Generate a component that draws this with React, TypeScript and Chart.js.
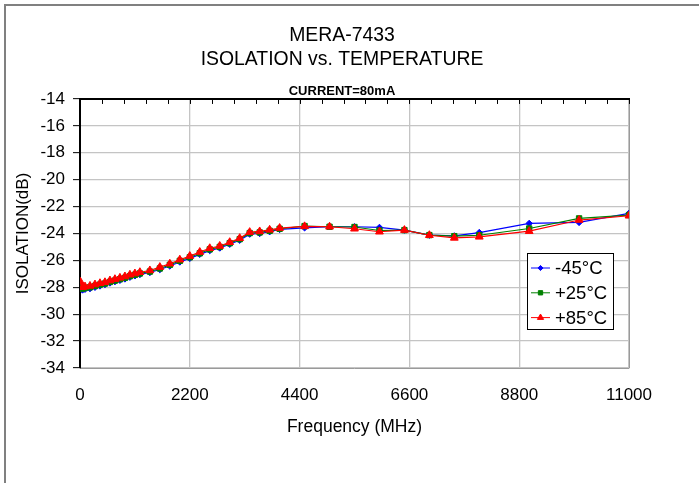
import React, { useEffect, useRef } from "react";
import { Chart, registerables } from "chart.js";
import { drawPoint } from "chart.js/helpers";

Chart.register(...registerables);

const FONT = "'Liberation Sans', Arial, Helvetica, sans-serif";

const titleLines = ["MERA-7433", "ISOLATION vs. TEMPERATURE"];
const subtitleText = "CURRENT=80mA";
const xAxisTitle = "Frequency (MHz)";
const yAxisTitle = "ISOLATION(dB)";

const xMin = 0;
const xMax = 11000;
const xMajorStep = 2200;
const xMinorStep = 440;
const yMin = -34;
const yMax = -14;
const yStep = 2;

const freqMHz = [
  10, 50, 100, 200, 300, 400, 500, 600, 700, 800, 900, 1000, 1100, 1200, 1400,
  1600, 1800, 2000, 2200, 2400, 2600, 2800, 3000, 3200, 3400, 3600, 3800, 4000,
  4500, 5000, 5500, 6000, 6500, 7000, 7500, 8000, 9000, 10000, 11000,
];

const isoM45 = [
  -27.85, -28.2, -28.15, -28.1, -28.0, -27.9, -27.8, -27.68, -27.58, -27.48,
  -27.38, -27.25, -27.15, -27.05, -26.9, -26.68, -26.42, -26.12, -25.85, -25.55,
  -25.27, -25.08, -24.8, -24.5, -24.05, -24.0, -23.87, -23.7, -23.58, -23.5,
  -23.5, -23.55, -23.75, -24.12, -24.18, -23.93, -23.25, -23.18, -22.5,
];

const isoP25 = [
  -27.95, -28.1, -28.05, -28.0, -27.9, -27.8, -27.72, -27.6, -27.5, -27.4,
  -27.3, -27.17, -27.07, -26.97, -26.83, -26.6, -26.33, -26.03, -25.77, -25.47,
  -25.18, -25.0, -24.72, -24.42, -23.97, -23.92, -23.8, -23.65, -23.45, -23.5,
  -23.52, -23.78, -23.75, -24.12, -24.2, -24.13, -23.63, -22.88, -22.63,
];

const isoP85 = [
  -27.6, -28.0, -27.95, -27.9, -27.8, -27.7, -27.63, -27.5, -27.4, -27.3,
  -27.2, -27.07, -26.98, -26.88, -26.75, -26.5, -26.25, -25.95, -25.68, -25.38,
  -25.1, -24.93, -24.65, -24.35, -23.9, -23.85, -23.73, -23.6, -23.47, -23.5,
  -23.65, -23.87, -23.75, -24.13, -24.33, -24.25, -23.83, -23.0, -22.68,
];

const seriesLabels = ["-45°C", "+25°C", "+85°C"];
const seriesColors = ["#0000ff", "#008000", "#ff0000"];
const seriesPointStyles = ["rectRot", "rect", "triangle"];
const seriesPointRadius = [3.2, 3.8, 4.5];
const seriesValues = [isoM45, isoP25, isoP85];
const seriesOrder = [3, 2, 1];

const topAxisPlugin = {
  id: "topAxis",
  afterDraw(chart: any) {
    const { ctx, chartArea, scales } = chart;
    const { left, right, top, bottom } = chartArea;
    const x = scales.x;
    ctx.save();
    ctx.strokeStyle = "#9a9a9a";
    ctx.lineWidth = 1;
    ctx.beginPath();
    ctx.moveTo(Math.round(right) + 0.5, top);
    ctx.lineTo(Math.round(right) + 0.5, bottom);
    ctx.stroke();
    ctx.strokeStyle = "#000";
    ctx.lineWidth = 2;
    ctx.beginPath();
    ctx.moveTo(left - 1, Math.round(top));
    ctx.lineTo(right + 1, Math.round(top));
    ctx.stroke();
    ctx.lineWidth = 1;
    ctx.beginPath();
    for (let v = xMin; v <= xMax + 1e-6; v += xMinorStep) {
      const px = Math.round(x.getPixelForValue(v)) + 0.5;
      ctx.moveTo(px, top);
      ctx.lineTo(px, top + 5);
    }
    ctx.stroke();
    ctx.restore();
  },
};

const boxLegendPlugin = {
  id: "boxLegend",
  afterDraw(chart: any) {
    const { ctx } = chart;
    const bx = 527.5;
    const by = 253.5;
    const bw = 86;
    const bh = 76;
    ctx.save();
    ctx.fillStyle = "#ffffff";
    ctx.fillRect(bx, by, bw, bh);
    ctx.strokeStyle = "#000";
    ctx.lineWidth = 1;
    ctx.strokeRect(bx, by, bw, bh);
    chart.data.datasets.forEach((ds: any, i: number) => {
      const cy = 268 + i * 24.8;
      ctx.strokeStyle = ds.borderColor;
      ctx.lineWidth = 1;
      ctx.beginPath();
      ctx.moveTo(531, cy);
      ctx.lineTo(550, cy);
      ctx.stroke();
      ctx.fillStyle = ds.backgroundColor;
      ctx.strokeStyle = ds.borderColor;
      drawPoint(
        ctx,
        { pointStyle: ds.pointStyle, radius: ds.pointRadius * 0.8, rotation: 0, borderWidth: 1 },
        540.5,
        cy
      );
      ctx.fillStyle = "#000";
      ctx.font = `18.5px ${FONT}`;
      ctx.textAlign = "left";
      ctx.textBaseline = "middle";
      ctx.fillText(ds.label, 555, cy + 1);
    });
    ctx.restore();
  },
};

export default function App() {
  const canvasRef = useRef<HTMLCanvasElement | null>(null);

  useEffect(() => {
    const canvas = canvasRef.current;
    if (!canvas) return;
    const datasets = seriesValues.map((vals, i) => ({
      label: seriesLabels[i],
      data: freqMHz.map((f, j) => ({ x: f, y: vals[j] })),
      borderColor: seriesColors[i],
      backgroundColor: seriesColors[i],
      pointStyle: seriesPointStyles[i],
      pointRadius: seriesPointRadius[i],
      pointBorderWidth: 1,
      borderWidth: 1.2,
      tension: 0,
      fill: false,
      order: seriesOrder[i],
    }));

    const chart = new Chart(canvas, {
      type: "line",
      data: { datasets },
      plugins: [topAxisPlugin, boxLegendPlugin],
      options: {
        animation: false,
        responsive: false,
        devicePixelRatio: 1,
        layout: { padding: { left: 0, right: 15, top: 0, bottom: 0 } },
        plugins: {
          legend: { display: false },
          tooltip: { enabled: false },
          title: {
            display: true,
            text: titleLines,
            color: "#000",
            font: { family: FONT, size: 19.4, weight: "normal", lineHeight: 1.2 },
            padding: { top: 24.5, bottom: 0 },
          },
          subtitle: {
            display: true,
            text: subtitleText,
            color: "#000",
            font: { family: FONT, size: 13, weight: "bold", lineHeight: 1.2 },
            padding: { top: 12.3, bottom: 0 },
          },
        },
        scales: {
          x: {
            type: "linear",
            position: "bottom",
            min: xMin,
            max: xMax,
            afterFit: (s: any) => {
              s.height = 115;
            },
            ticks: {
              stepSize: xMajorStep,
              autoSkip: false,
              maxRotation: 0,
              padding: 17,
              color: "#000",
              font: { family: FONT, size: 17 },
              callback: (v: any) => String(v),
            },
            grid: {
              color: "#c4c4c4",
              lineWidth: 1.3,
              drawTicks: false,
            },
            border: { display: true, color: "#9a9a9a", width: 1 },
            title: {
              display: true,
              text: xAxisTitle,
              color: "#000",
              font: { family: FONT, size: 17.5, lineHeight: 1.2 },
              padding: { top: 0, bottom: 45.5 },
            },
          },
          y: {
            type: "linear",
            position: "left",
            min: yMin,
            max: yMax,
            afterFit: (s: any) => {
              s.width = 80;
            },
            ticks: {
              stepSize: yStep,
              padding: 8,
              color: "#000",
              font: { family: FONT, size: 17 },
            },
            grid: {
              color: "#c4c4c4",
              lineWidth: 1.3,
              drawTicks: true,
              tickLength: 7,
              tickColor: "#000",
              tickWidth: 1,
            },
            border: { display: true, color: "#000", width: 2 },
            title: {
              display: true,
              text: yAxisTitle,
              color: "#000",
              font: { family: FONT, size: 17, lineHeight: 1.2 },
              padding: { top: 13.3, bottom: 0 },
            },
          },
          yRight: {
            type: "linear",
            position: "right",
            display: true,
            afterFit: (s: any) => {
              s.width = 55;
            },
            ticks: { display: false },
            grid: { display: false, drawTicks: false },
            border: { display: false },
          },
        },
      } as any,
    });
    return () => chart.destroy();
  }, []);

  return (
    <div
      style={{
        position: "fixed",
        left: 0,
        top: 0,
        width: 699,
        height: 483,
        overflow: "hidden",
        background: "#fff",
      }}
    >
      <canvas ref={canvasRef} width={699} height={483} style={{ position: "absolute", left: 0, top: 0 }} />
      <div
        style={{
          position: "absolute",
          left: 4,
          top: 4,
          width: 900,
          height: 900,
          borderTop: "2px solid #808080",
          borderLeft: "2px solid #808080",
          pointerEvents: "none",
        }}
      />
    </div>
  );
}
